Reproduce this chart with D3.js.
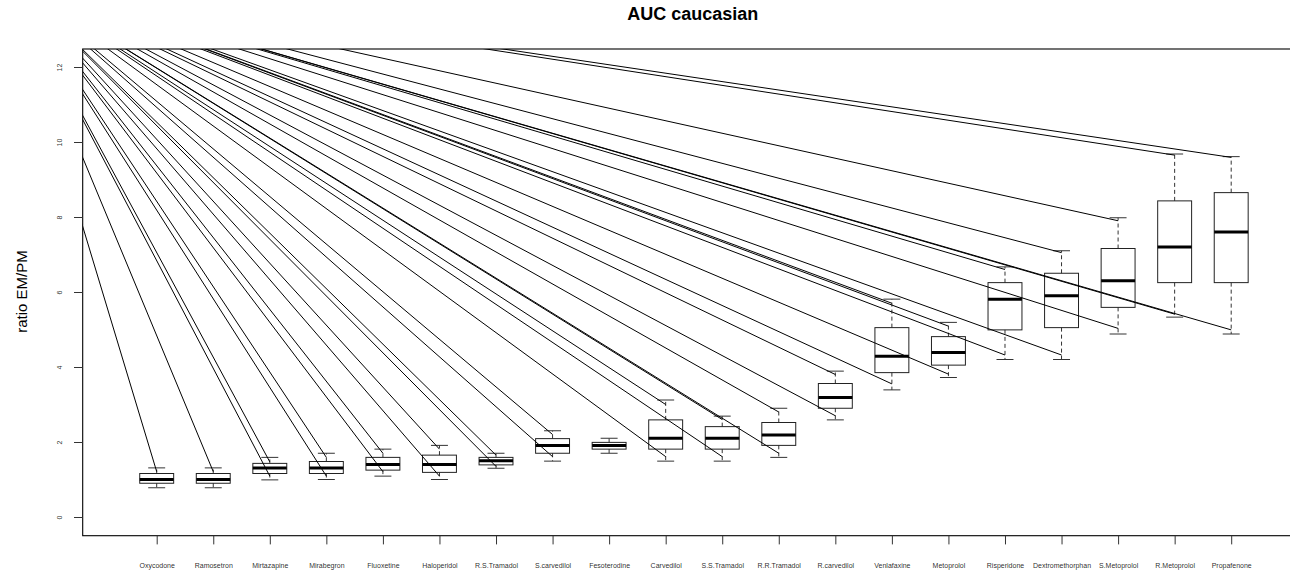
<!DOCTYPE html>
<html><head><meta charset="utf-8">
<script src="https://cdn.jsdelivr.net/npm/d3@7"></script>
<style>html,body{margin:0;padding:0;background:#fff;} svg{display:block;font-family:"Liberation Sans",Arial,sans-serif;} text{-webkit-font-smoothing:antialiased;}</style>
</head><body>
<script>
const categories = ["Oxycodone","Ramosetron","Mirtazapine","Mirabegron","Fluoxetine","Haloperidol","R.S.Tramadol","S.carvedilol","Fesoterodine","Carvedilol","S.S.Tramadol","R.R.Tramadol","R.carvedilol","Venlafaxine","Metoprolol","Risperidone","Dextromethorphan","S.Metoprolol","R.Metoprolol","Propafenone"];
const whiskerLow  = [0.78,0.78,0.99,1.00,1.09,1.00,1.30,1.49,1.70,1.49,1.49,1.59,2.59,3.39,3.72,4.20,4.20,4.88,5.33,4.88];
const q1          = [0.90,0.90,1.16,1.16,1.25,1.19,1.39,1.70,1.81,1.81,1.81,1.91,2.90,3.85,4.05,4.99,5.05,5.59,6.25,6.25];
const median      = [1.00,1.00,1.31,1.31,1.40,1.40,1.50,1.91,1.91,2.10,2.10,2.19,3.19,4.29,4.39,5.81,5.90,6.30,7.20,7.60];
const q3          = [1.16,1.16,1.43,1.48,1.59,1.65,1.59,2.09,1.99,2.59,2.41,2.52,3.56,5.05,4.81,6.25,6.50,7.16,8.43,8.65];
const whiskerHigh = [1.31,1.31,1.59,1.70,1.81,1.91,1.70,2.30,2.10,3.12,2.69,2.90,3.89,5.81,5.19,6.67,7.10,7.98,9.68,9.61];
// end values of the straight lines running from the common origin
const lineHigh = [1.21,1.21,1.47,1.59,1.70,1.81,1.65,2.20,null,3.00,2.60,2.80,3.80,5.70,5.09,6.60,7.05,7.90,9.65,9.59];
const lineLow  = [null,null,1.09,1.09,1.21,1.09,1.35,1.61,null,1.61,1.61,1.70,2.70,3.55,3.81,4.32,4.32,5.03,5.41,4.99];
const lineOrigin = [-1.65, 14.45]; // [position, value]
const yTicks = [0,2,4,6,8,10,12];
const title = "AUC caucasian";
const yLabel = "ratio EM/PM";

const W = 1290, H = 577;
const plot = {left: 82.7, right: 1303, top: 49, bottom: 535.7};

const svg = d3.select("body").append("svg").attr("width", W).attr("height", H);
const x = d3.scaleLinear().domain([1, 20]).range([156.7, 1231.2]);
const y = d3.scaleLinear().domain([0, 12]).range([517, 67]);
const bw = 0.6 * (x(2) - x(1));

svg.append("defs").append("clipPath").attr("id", "clip")
  .append("rect").attr("x", plot.left).attr("y", plot.top)
  .attr("width", plot.right - plot.left).attr("height", plot.bottom - plot.top);

const data = categories.map((c, i) => ({c, i: i + 1, lo: whiskerLow[i], q1: q1[i], med: median[i], q3: q3[i], hi: whiskerHigh[i], lh: lineHigh[i], ll: lineLow[i]}));

const g = svg.append("g").attr("clip-path", "url(#clip)");
const box = g.selectAll("g.box").data(data).enter().append("g").attr("class", "box");
box.append("line").attr("x1", d => x(d.i)).attr("x2", d => x(d.i)).attr("y1", d => y(d.q3)).attr("y2", d => y(d.hi))
  .attr("stroke", "#333").attr("stroke-dasharray", "4,3").attr("stroke-width", 1);
box.append("line").attr("x1", d => x(d.i)).attr("x2", d => x(d.i)).attr("y1", d => y(d.q1)).attr("y2", d => y(d.lo))
  .attr("stroke", "#333").attr("stroke-dasharray", "4,3").attr("stroke-width", 1);
box.append("line").attr("x1", d => x(d.i) - bw/4).attr("x2", d => x(d.i) + bw/4).attr("y1", d => y(d.hi)).attr("y2", d => y(d.hi))
  .attr("stroke", "#333").attr("stroke-width", 1);
box.append("line").attr("x1", d => x(d.i) - bw/4).attr("x2", d => x(d.i) + bw/4).attr("y1", d => y(d.lo)).attr("y2", d => y(d.lo))
  .attr("stroke", "#333").attr("stroke-width", 1);
box.append("rect").attr("x", d => x(d.i) - bw/2).attr("width", bw)
  .attr("y", d => y(d.q3)).attr("height", d => y(d.q1) - y(d.q3))
  .attr("fill", "none").attr("stroke", "#222").attr("stroke-width", 1);
box.append("line").attr("x1", d => x(d.i) - bw/2).attr("x2", d => x(d.i) + bw/2).attr("y1", d => y(d.med)).attr("y2", d => y(d.med))
  .attr("stroke", "#000").attr("stroke-width", 3);

const segs = [];
data.forEach(d => {
  if (d.lh != null) segs.push({i: d.i, v: d.lh});
  if (d.ll != null) segs.push({i: d.i, v: d.ll});
});
g.selectAll("line.ray").data(segs).enter().append("line").attr("class", "ray")
  .attr("x1", x(lineOrigin[0])).attr("y1", y(lineOrigin[1]))
  .attr("x2", d => x(d.i)).attr("y2", d => y(d.v))
  .attr("stroke", "#000").attr("stroke-width", 1);

svg.append("rect").attr("x", plot.left).attr("y", plot.top)
  .attr("width", plot.right - plot.left).attr("height", plot.bottom - plot.top)
  .attr("fill", "none").attr("stroke", "#000").attr("stroke-width", 1.1);

const ya = svg.append("g").attr("transform", `translate(${plot.left},0)`)
  .call(d3.axisLeft(y).tickValues(yTicks).tickSize(8.7).tickFormat(d3.format("d")));
ya.select(".domain").remove();
ya.selectAll(".tick line").attr("stroke", "#333");
ya.selectAll(".tick text").attr("font-size", 7).attr("fill", "#000").attr("fill-opacity", 0.85)
  .attr("x", null).attr("dy", null).attr("text-anchor", "middle")
  .attr("transform", "translate(-20.4,0) rotate(-90)");

const xa = svg.append("g").attr("transform", `translate(0,${plot.bottom})`)
  .call(d3.axisBottom(x).tickValues(d3.range(1, 21)).tickSize(8.7).tickFormat(d => categories[d - 1]));
xa.select(".domain").remove();
xa.selectAll(".tick line").attr("stroke", "#333");
xa.selectAll(".tick text").attr("font-size", 7).attr("fill", "#000").attr("fill-opacity", 0.85).attr("dy", null).attr("y", 32.8);

svg.append("text").attr("x", (plot.left + plot.right) / 2).attr("y", 19.5)
  .attr("text-anchor", "middle").attr("font-weight", "bold").attr("font-size", 18).text(title);
svg.append("text").attr("transform", "translate(26.5,291.5) rotate(-90)")
  .attr("text-anchor", "middle").attr("font-size", 15).text(yLabel);
</script>
</body></html>
